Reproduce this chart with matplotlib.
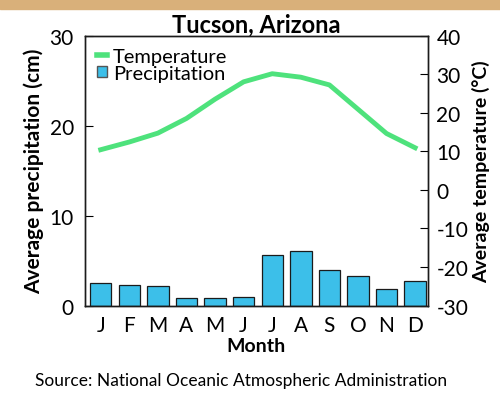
import matplotlib.pyplot as plt
from matplotlib.patches import Rectangle
from matplotlib.lines import Line2D
from matplotlib.patches import Patch

plt.rcParams['font.family'] = ['Lato', 'DejaVu Sans']
plt.rcParams['axes.unicode_minus'] = False

# ── data ──────────────────────────────────────────────────
months = ["J", "F", "M", "A", "M", "J", "J", "A", "S", "O", "N", "D"]
precip_cm = [2.5, 2.3, 2.2, 0.8, 0.8, 0.9, 5.6, 6.1, 3.9, 3.3, 1.8, 2.7]
temp_c = [10.4, 12.4, 14.7, 18.5, 23.5, 28.0, 30.1, 29.2, 27.2, 20.9, 14.6, 10.9]
precip_ticks = [0, 10, 20, 30]
temp_ticks = [-30, -20, -10, 0, 10, 20, 30, 40]

BAR_COLOR = "#3cbfe9"
LINE_COLOR = "#4ee27c"

fig = plt.figure(figsize=(5.0, 4.06), dpi=100)
fig.patches.append(Rectangle((0, 0.975), 1, 0.025, transform=fig.transFigure,
                             color="#d9b07a", zorder=0))

ax = fig.add_axes([0.17, 0.245, 0.686, 0.665])
x = range(len(months))
ax.bar(x, precip_cm, width=0.75, color=BAR_COLOR, edgecolor="#1b1b1b", linewidth=0.9)
ax.set_ylim(0, 30)
ax.set_xlim(-0.55, 11.45)
ax.set_yticks(precip_ticks)
ax.set_xticks(list(x))
ax.set_xticklabels(months)
ax.tick_params(axis="x", length=0, labelsize=15, pad=7)
ax.tick_params(axis="y", direction="in", length=6, labelsize=15, pad=8)
ax.set_ylabel("Average precipitation (cm)", fontsize=15, fontweight="bold", labelpad=4)
ax.set_xlabel("Month", fontsize=14, fontweight="bold", labelpad=1)
ax.set_title("Tucson, Arizona", fontsize=17, fontweight="bold", pad=3)

ax2 = ax.twinx()
ax2.plot(list(x), temp_c, color=LINE_COLOR, linewidth=3.5, solid_joinstyle="round")
ax2.set_ylim(-30, 40)
ax2.set_yticks(temp_ticks)
ax2.tick_params(axis="y", direction="in", length=6, labelsize=15, pad=6)
ax2.set_ylabel("Average temperature (°C)", fontsize=14, fontweight="bold", labelpad=3)

for a in (ax, ax2):
    for s in a.spines.values():
        s.set_linewidth(1.0)
        s.set_color("#1b1b1b")

handles = [Line2D([0], [0], color=LINE_COLOR, linewidth=4),
           Patch(facecolor=BAR_COLOR, edgecolor="#555555")]
ax.legend(handles, ["Temperature", "Precipitation"], loc="upper left",
          frameon=False, fontsize=14.5, handlelength=0.5, handleheight=0.45,
          handletextpad=0.3, labelspacing=0.0, borderaxespad=0.2)

fig.text(0.07, 0.05, "Source: National Oceanic Atmospheric Administration", fontsize=12.5)

fig.savefig("out.png", dpi=100)
